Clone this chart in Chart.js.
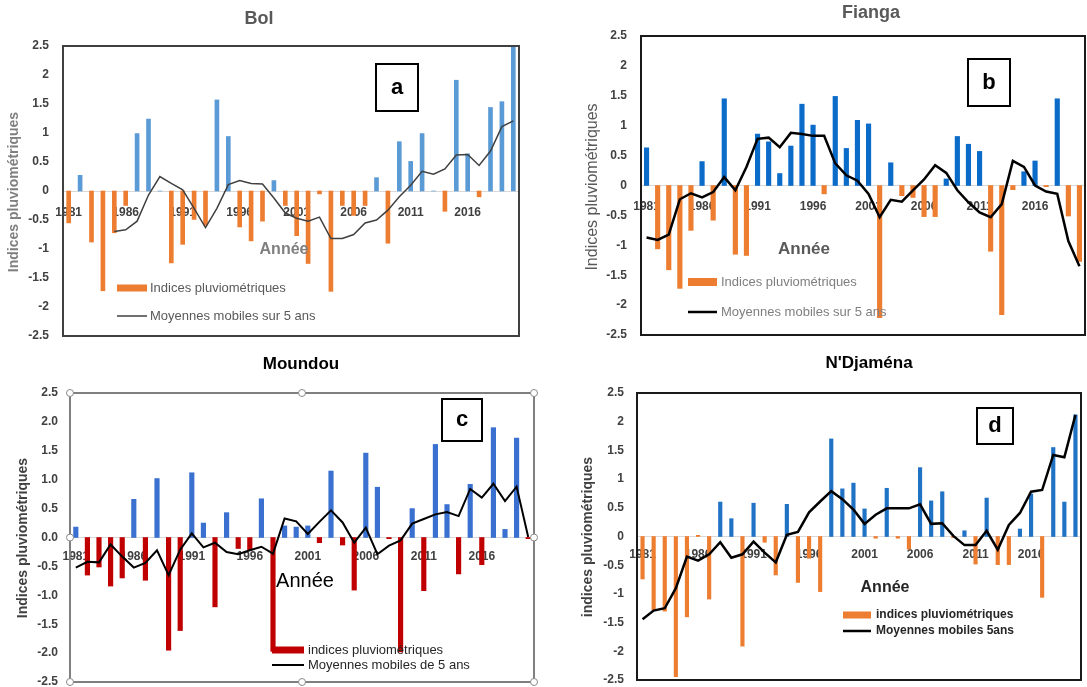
<!DOCTYPE html>
<html><head><meta charset="utf-8">
<script src="https://cdn.jsdelivr.net/npm/chart.js@4.4.1/dist/chart.umd.min.js"></script>
<style>
html,body{margin:0;padding:0;background:#fff;}
body{width:1087px;height:687px;position:relative;overflow:hidden;}
canvas{position:absolute;}
</style></head><body>
<canvas id="ca" width="545" height="375" style="left:0;top:0"></canvas>
<canvas id="cb" width="560" height="375" style="left:545px;top:0"></canvas>
<canvas id="cc" width="545" height="370" style="left:0;top:350px"></canvas>
<canvas id="cd" width="560" height="370" style="left:545px;top:350px"></canvas>
<script>
// ---- categories ----
const years = ['1981','1982','1983','1984','1985','1986','1987','1988','1989','1990',
               '1991','1992','1993','1994','1995','1996','1997','1998','1999','2000',
               '2001','2002','2003','2004','2005','2006','2007','2008','2009','2010',
               '2011','2012','2013','2014','2015','2016','2017','2018','2019','2020'];
const yTicks = [-2.5,-2,-1.5,-1,-0.5,0,0.5,1,1.5,2,2.5];

// ---- (a) Bol ----
const bolIndices = [-0.55,0.27,-0.88,-1.72,-0.72,-0.25,0.99,1.24,0,-1.24,
                    -0.92,-0.49,-0.59,1.57,0.94,-0.62,-0.86,-0.52,0.18,-0.25,
                    -0.77,-1.25,-0.05,-1.73,-0.25,-0.42,-0.25,0.23,-0.90,0.85,
                    0.51,0.99,0,-0.35,1.91,0.64,-0.10,1.44,1.54,2.50];
const bolMA = [null,null,null,null,-0.70,-0.67,-0.52,-0.07,0.25,0.13,
               0.02,-0.30,-0.63,-0.30,0.11,0.18,0.13,0.12,-0.12,-0.38,
               -0.47,-0.52,-0.45,-0.82,-0.82,-0.75,-0.55,-0.50,-0.33,-0.10,
               0.10,0.34,0.29,0.38,0.62,0.63,0.44,0.69,1.11,1.21];

// ---- (b) Fianga ----
const fiangaIndices = [0.63,-1.06,-1.41,-1.72,-0.75,0.40,-0.58,1.45,-1.15,-1.17,
                       0.86,0.73,0.20,0.66,1.36,1.01,-0.14,1.49,0.62,1.09,
                       1.03,-2.21,0.38,-0.17,-0.20,-0.52,-0.52,0.11,0.82,0.69,
                       0.57,-1.10,-2.16,-0.07,0.23,0.41,-0.02,1.45,-0.51,-1.27];
const fiangaMA = [-0.87,-0.91,-0.82,-0.23,-0.13,-0.20,-0.11,0.14,-0.08,0.31,
                  0.78,0.80,0.64,0.88,0.86,0.83,0.83,0.37,0.17,0.08,
                  -0.14,-0.53,-0.24,-0.27,-0.08,0.10,0.34,0.21,-0.08,-0.28,
                  -0.45,-0.53,-0.31,0.41,0.31,0.00,-0.10,-0.14,-0.93,-1.35];

// ---- (c) Moundou ----
const moundouIndices = [0.18,-0.65,-0.51,-0.84,-0.70,0.66,-0.74,1.02,-1.95,-1.61,
                        1.12,0.25,-1.20,0.43,-0.19,-0.22,0.67,-1.97,0.20,0.18,
                        0.20,-0.09,1.15,-0.13,-0.91,1.46,0.87,-0.02,-1.98,0.50,
                        -0.92,1.61,0.57,-0.63,0.92,-0.47,1.90,0.14,1.72,-0.02];
const moundouMA = [-0.52,-0.42,-0.43,-0.12,-0.33,-0.52,-0.44,-0.22,-0.65,-0.21,
                   0.07,-0.17,-0.09,-0.25,-0.29,-0.22,-0.16,-0.28,0.33,0.28,
                   0.06,0.27,0.47,0.26,-0.09,0.17,-0.29,-0.14,-0.05,0.24,
                   0.32,0.40,0.44,0.37,0.84,0.69,0.93,0.63,0.88,0.01];

// ---- (d) N'Djaména ----
const ndjamenaIndices = [-0.74,-1.28,-1.30,-2.44,-1.40,0.02,-1.09,0.60,0.31,-1.91,
                         0.58,-0.10,-0.67,0.56,-0.80,-0.38,-0.96,1.70,0.83,0.93,
                         0.48,-0.03,0.84,-0.03,-0.22,1.20,0.62,0.78,-0.02,0.10,
                         -0.48,0.67,-0.49,-0.49,0.13,0.74,-1.06,1.55,0.60,2.12];
const ndjamenaMA = [-1.44,-1.29,-1.25,-0.90,-0.35,-0.42,-0.31,-0.10,-0.37,-0.31,
                    -0.09,-0.28,-0.45,0.03,0.08,0.42,0.61,0.79,0.65,0.47,
                    0.22,0.38,0.49,0.49,0.49,0.56,0.22,0.23,0.01,-0.15,
                    -0.15,0.10,-0.23,0.20,0.41,0.78,0.81,1.42,1.38,2.12];

const FF = "'Liberation Sans', Arial, sans-serif";

const decorPlugin = {
  id: 'decor',
  afterDraw(chart, args, o) {
    const ctx = chart.ctx, a = chart.chartArea;
    ctx.save();
    ctx.strokeStyle = o.frame.color; ctx.lineWidth = o.frame.width;
    ctx.strokeRect(a.left, a.top, a.right - a.left, a.bottom - a.top);
    if (o.handles) {
      const xs = [a.left, (a.left + a.right) / 2, a.right];
      const ys = [a.top, (a.top + a.bottom) / 2, a.bottom];
      ctx.lineWidth = 1; ctx.strokeStyle = '#8a8a8a'; ctx.fillStyle = '#fff';
      xs.forEach((x, i) => ys.forEach((y, j) => {
        if (i === 1 && j === 1) return;
        ctx.beginPath(); ctx.arc(x, y, 3.5, 0, Math.PI * 2); ctx.fill(); ctx.stroke();
      }));
    }
    ctx.translate(-o.ox, -o.oy);
    const text = (t) => {
      ctx.font = t.font; ctx.fillStyle = t.color; ctx.textAlign = t.align || 'center'; ctx.textBaseline = 'middle';
      if (t.rot) { ctx.save(); ctx.translate(t.x, t.y); ctx.rotate(-Math.PI / 2); ctx.fillText(t.text, 0, 0); ctx.restore(); }
      else ctx.fillText(t.text, t.x, t.y);
    };
    text(o.title); text(o.ytitle); text(o.annee);
    const L = o.legend;
    ctx.fillStyle = L.patchColor;
    ctx.fillRect(L.x1, L.y1 - L.patchH / 2, L.x2 - L.x1, L.patchH);
    ctx.strokeStyle = L.lineColor; ctx.lineWidth = L.lineW;
    ctx.beginPath(); ctx.moveTo(L.x1, L.y2); ctx.lineTo(L.x2, L.y2); ctx.stroke();
    text({text: L.text1, x: L.tx, y: L.y1, font: L.font, color: L.color, align: 'left'});
    text({text: L.text2, x: L.tx, y: L.y2, font: L.font, color: L.color, align: 'left'});
    const B = o.box;
    ctx.fillStyle = '#fff'; ctx.fillRect(B.x1, B.y1, B.x2 - B.x1, B.y2 - B.y1);
    ctx.strokeStyle = '#000'; ctx.lineWidth = 2;
    ctx.strokeRect(B.x1, B.y1, B.x2 - B.x1, B.y2 - B.y1);
    text({text: B.letter, x: (B.x1 + B.x2) / 2, y: (B.y1 + B.y2) / 2, font: 'bold 22px ' + FF, color: '#000'});
    ctx.restore();
  }
};

function build(id, p) {
  const idx = p.idx;
  return new Chart(document.getElementById(id), {
    type: 'bar',
    data: {
      labels: years,
      datasets: [
        {type: 'line', label: p.lineLabel, data: p.ma, borderColor: p.lineColor, borderWidth: p.lineWidth,
         pointRadius: 0, tension: 0, order: 0, spanGaps: false},
        {type: 'bar', label: p.barLabel, data: idx,
         backgroundColor: idx.map(v => (v >= 0 && !p.negSmall(v)) ? p.pos : p.neg), barThickness: p.barW, order: 1}
      ]
    },
    options: {
      responsive: false, animation: false, devicePixelRatio: 1,
      layout: {padding: {left: 0, top: p.area.top, right: p.area.right, bottom: p.area.bottom}},
      plugins: {legend: {display: false}, tooltip: {enabled: false}, title: {display: false}, decor: p.decor},
      scales: {
        x: {
          position: {y: 0}, offset: true,
          grid: {display: false, drawTicks: false},
          border: {display: true, color: '#d9d9d9', width: 1},
          ticks: {autoSkip: false, maxRotation: 0, minRotation: 0, padding: p.xPad,
                  font: {family: FF, size: 12, weight: 'bold'}, color: '#404040',
                  callback: (v, i) => (i % 5 === 0 ? years[i] : '')}
        },
        y: {
          min: -2.5, max: 2.5,
          afterBuildTicks: s => { s.ticks = yTicks.map(v => ({value: v})); },
          afterFit: s => { s.width = p.area.left; },
          grid: {display: false, drawTicks: false},
          border: {display: false},
          ticks: {padding: p.yPad, font: {family: FF, size: 12, weight: 'bold'}, color: '#404040',
                  callback: v => (p.fixed ? Number(v).toFixed(1) : String(v))}
        }
      }
    },
    plugins: [decorPlugin]
  });
}
const none = () => false;

// (a) Bol  canvas at (0,0); plot 63..519 x 46..336
build('ca', {
  idx: bolIndices, ma: bolMA, pos: '#5B9BD5', neg: '#ED7D31', lineColor: '#404040', lineWidth: 1.5, barW: 4, negSmall: none,
  barLabel: 'Indices pluviométriques', lineLabel: 'Moyennes mobiles sur 5 ans',
  area: {left: 63, top: 46, right: 545 - 519, bottom: 375 - 336}, xPad: 14, yPad: 14, fixed: false,
  decor: {ox: 0, oy: 0, frame: {color: '#404040', width: 2},
    title: {text: 'Bol', x: 259, y: 19, font: 'bold 18px ' + FF, color: '#595959'},
    ytitle: {text: 'Indices pluviométriques', x: 14, y: 192, font: 'bold 14px ' + FF, color: '#7f7f7f', rot: true},
    annee: {text: 'Année', x: 284, y: 250, font: 'bold 16px ' + FF, color: '#7f7f7f'},
    legend: {x1: 117, x2: 147, patchH: 7, patchColor: '#ED7D31', y1: 288, y2: 316, lineColor: '#404040', lineW: 1.5,
      tx: 150, font: '13px ' + FF, color: '#595959', text1: 'Indices pluviométriques', text2: 'Moyennes mobiles sur 5 ans'},
    box: {x1: 376, y1: 64, x2: 418, y2: 111, letter: 'a'}}
});

// (b) Fianga canvas at (545,0); plot 641..1085 x 36..335
build('cb', {
  idx: fiangaIndices, ma: fiangaMA, pos: '#0A6BC9', neg: '#ED7D31', lineColor: '#000', lineWidth: 2.5, barW: 4.5, negSmall: none,
  barLabel: 'Indices pluviométriques', lineLabel: 'Moyennes mobiles sur 5 ans',
  area: {left: 641 - 545, top: 36, right: 560 - (1085 - 545), bottom: 375 - 335}, xPad: 14, yPad: 14, fixed: false,
  decor: {ox: 545, oy: 0, frame: {color: '#1a1a1a', width: 2},
    title: {text: 'Fianga', x: 871, y: 13, font: 'bold 18px ' + FF, color: '#595959'},
    ytitle: {text: 'Indices pluviométriques', x: 593, y: 187, font: '16px ' + FF, color: '#595959', rot: true},
    annee: {text: 'Année', x: 804, y: 249, font: 'bold 17px ' + FF, color: '#595959'},
    legend: {x1: 688, x2: 717, patchH: 8, patchColor: '#ED7D31', y1: 282, y2: 312, lineColor: '#000', lineW: 2.5,
      tx: 721, font: '13px ' + FF, color: '#7f7f7f', text1: 'Indices pluviométriques', text2: 'Moyennes mobiles sur 5 ans'},
    box: {x1: 968, y1: 59, x2: 1010, y2: 106, letter: 'b'}}
});

// (c) Moundou canvas at (0,350); plot 70..534 x 393..682
build('cc', {
  idx: moundouIndices, ma: moundouMA, pos: '#3A70D0', neg: '#C00000', lineColor: '#000', lineWidth: 2, barW: 4.5, negSmall: none,
  barLabel: 'indices pluviométriques', lineLabel: 'Moyennes mobiles de 5 ans',
  area: {left: 70, top: 393 - 350, right: 545 - 534, bottom: 370 - (682 - 350)}, xPad: 12, yPad: 12, fixed: true,
  decor: {ox: 0, oy: 350, frame: {color: '#7f7f7f', width: 2}, handles: true,
    title: {text: 'Moundou', x: 301, y: 364, font: 'bold 17px ' + FF, color: '#000'},
    ytitle: {text: 'Indices pluviométriques', x: 23, y: 538, font: 'bold 14px ' + FF, color: '#404040', rot: true},
    annee: {text: 'Année', x: 305, y: 581, font: '20px ' + FF, color: '#000'},
    legend: {x1: 272, x2: 304, patchH: 7, patchColor: '#C00000', y1: 650, y2: 665, lineColor: '#000', lineW: 2,
      tx: 308, font: '13px ' + FF, color: '#262626', text1: 'indices pluviométriques', text2: 'Moyennes mobiles de 5 ans'},
    box: {x1: 442, y1: 399, x2: 482, y2: 441, letter: 'c'}}
});

// (d) N'Djaména canvas at (545,350); plot 637..1081 x 393..680
build('cd', {
  idx: ndjamenaIndices, ma: ndjamenaMA, pos: '#1F72C4', neg: '#ED7D31', lineColor: '#000', lineWidth: 2.5, barW: 3.5,
  negSmall: v => v > 0 && v < 0.05,
  barLabel: 'indices pluviométriques', lineLabel: 'Moyennes mobiles 5ans',
  area: {left: 637 - 545, top: 393 - 350, right: 560 - (1081 - 545), bottom: 370 - (680 - 350)}, xPad: 11, yPad: 13, fixed: false,
  decor: {ox: 545, oy: 350, frame: {color: '#1a1a1a', width: 2},
    title: {text: "N'Djaména", x: 869, y: 363, font: 'bold 17px ' + FF, color: '#000'},
    ytitle: {text: 'indices pluviométriques', x: 588, y: 537, font: 'bold 14px ' + FF, color: '#404040', rot: true},
    annee: {text: 'Année', x: 885, y: 588, font: 'bold 16px ' + FF, color: '#262626'},
    legend: {x1: 843, x2: 871, patchH: 7, patchColor: '#ED7D31', y1: 615, y2: 631, lineColor: '#000', lineW: 2.5,
      tx: 876, font: 'bold 12px ' + FF, color: '#262626', text1: 'indices pluviométriques', text2: 'Moyennes mobiles 5ans'},
    box: {x1: 977, y1: 408, x2: 1013, y2: 444, letter: 'd'}}
});
</script>
</body></html>
